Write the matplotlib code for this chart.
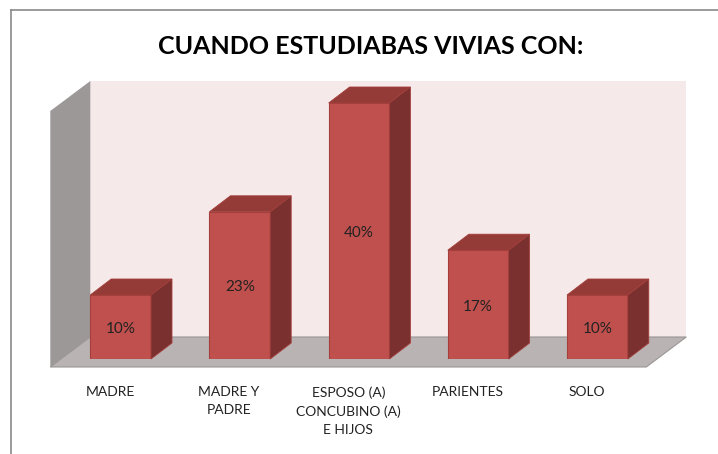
import matplotlib
matplotlib.use('Agg')
import matplotlib.pyplot as plt
from matplotlib.patches import Polygon
from matplotlib.lines import Line2D

# data
categorias = ['MADRE', 'MADRE Y\nPADRE', 'ESPOSO (A)\nCONCUBINO (A)\nE HIJOS',
              'PARIENTES', 'SOLO']
porcentajes = [10, 23, 40, 17, 10]
etiquetas = ['10%', '23%', '40%', '17%', '10%']
titulo = 'CUANDO ESTUDIABAS VIVIAS CON:'

W, H = 718, 454
fig = plt.figure(figsize=(W / 100, H / 100), dpi=100)
fig.patch.set_facecolor('white')

# front plane of the bars, in pixels
left_px, right_px = 61, 657
bot_px, top_px = 359, 103
ax = fig.add_axes([left_px / W, (H - bot_px) / H,
                   (right_px - left_px) / W, (bot_px - top_px) / H])
ax.set_xlim(-0.5, len(categorias) - 0.5)
ax.set_ylim(0, 40)
ax.axis('off')

# pixel -> data units
px_x = (right_px - left_px) / len(categorias)
px_y = (bot_px - top_px) / 40.0


def off(px, py):
    # pixel offset (right, up) into data units
    return px / px_x, py / px_y


def poly(pts, fc, ec='none', lw=0.0, z=1):
    ax.add_patch(Polygon(pts, closed=True, facecolor=fc, edgecolor=ec,
                         linewidth=lw, zorder=z, clip_on=False))


x0, x1 = -0.5, len(categorias) - 0.5
fdx, fdy = off(-10.7, -8)   # floor front edge
bdx, bdy = off(29.3, 22)    # back wall plane

# back wall
poly([(x0 + bdx, bdy), (x1 + bdx, bdy), (x1 + bdx, 40 + bdy), (x0 + bdx, 40 + bdy)],
     '#f5e9e9', z=0)
# left wall
poly([(x0 + fdx, fdy), (x0 + bdx, bdy), (x0 + bdx, 40 + bdy), (x0 + fdx, 40 + fdy)],
     '#9d9898', z=0)
# floor
poly([(x0 + fdx, fdy), (x1 + fdx, fdy), (x1 + bdx, bdy), (x0 + bdx, bdy)],
     '#b9b3b3', ec='#9a9696', lw=0.8, z=0.5)

# bars
ancho = 0.51
ddx, ddy = off(21, 16)
for i, v in enumerate(porcentajes):
    xl, xr = i - ancho / 2, i + ancho / 2
    ax.bar(i, v, width=ancho, color='#c0504d', edgecolor='#a43f3c',
           linewidth=0.8, zorder=3)
    # top face
    poly([(xl, v), (xr, v), (xr + ddx, v + ddy), (xl + ddx, v + ddy)],
         '#943a37', ec='#a43f3c', lw=0.6, z=3)
    # side face
    poly([(xr, 0), (xr + ddx, ddy), (xr + ddx, v + ddy), (xr, v)],
         '#7a302e', ec='#a43f3c', lw=0.6, z=3)
    ax.text(i, v / 2 - 0.3, etiquetas[i], ha='center', va='center', fontsize=11,
            family=['Lato', 'DejaVu Sans'], color='#222222', zorder=5)

# category labels on the front edge of the floor
_, ly = off(0, -27)
for i, c in enumerate(categorias):
    ax.text(i + fdx, ly, c, ha='center', va='top', fontsize=10,
            family=['Lato', 'DejaVu Sans'], color='#222222', linespacing=1.65,
            clip_on=False)

fig.text(371 / W, 1 - 47 / H, titulo, ha='center', va='center', fontsize=18,
         fontweight='bold', family=['Lato', 'DejaVu Sans'])

# chart border (top and left)
fig.add_artist(Line2D([11 / W, 1], [1 - 9.5 / H, 1 - 9.5 / H], color='#8a8a8a', lw=1.2))
fig.add_artist(Line2D([11 / W, 11 / W], [0, 1 - 9.5 / H], color='#8a8a8a', lw=1.2))

fig.savefig('out.png', dpi=100)
